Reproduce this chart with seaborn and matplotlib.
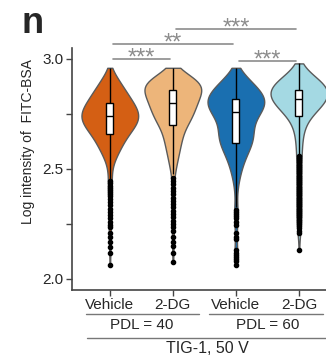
import numpy as np
import pandas as pd
import matplotlib
matplotlib.use("Agg")
import matplotlib.pyplot as plt
import matplotlib.transforms as mtransforms
import seaborn as sns

# groups on the x axis
groups = ["Vehicle_40", "2DG_40", "Vehicle_60", "2DG_60"]
tick_labels = ["Vehicle", "2-DG", "Vehicle", "2-DG"]
colors = ["#D45F14", "#EDB57A", "#1A6FB0", "#A4D9E3"]

# binned log intensities (value level -> count)
levels = [2.98, 2.96, 2.94, 2.92, 2.90, 2.88, 2.86, 2.84, 2.82, 2.80,
          2.78, 2.76, 2.74, 2.72, 2.70, 2.68, 2.66, 2.64, 2.62, 2.60,
          2.58, 2.56, 2.54, 2.52, 2.50, 2.48, 2.46, 2.44, 2.42, 2.40]
counts_veh40 = [0, 1, 4, 7, 10, 13, 16, 19, 22, 25,
                28, 31, 32, 31, 28, 24, 20, 17, 14, 12,
                10, 7, 5, 3, 2, 0, 0, 0, 0, 0]
counts_dg40 = [0, 3, 11, 21, 32, 36, 33, 30, 28, 26,
               25, 23, 21, 20, 15, 12, 11, 10, 9, 8,
               7, 6, 5, 4, 3, 0, 0, 0, 0, 0]
counts_veh60 = [0, 1, 5, 9, 13, 17, 21, 25, 27, 28,
                26, 22, 19, 15, 14, 15, 16, 16, 15, 13,
                11, 9, 7, 6, 5, 4, 3, 2, 2, 1]
counts_dg60 = [1, 2, 6, 13, 20, 25, 28, 27, 25, 22,
               18, 14, 8, 6, 5, 4, 3, 3, 3, 2,
               2, 0, 0, 0, 0, 0, 0, 0, 0, 0]

# low single cells (the dots under each violin)
tail_veh40 = [2.485, 2.475, 2.465, 2.455, 2.445, 2.435, 2.425, 2.415, 2.405,
              2.395, 2.385, 2.375, 2.365, 2.35, 2.335, 2.32, 2.305, 2.29,
              2.275, 2.26, 2.245, 2.235, 2.21, 2.19, 2.17, 2.145, 2.12, 2.063]
tail_dg40 = [2.49, 2.475, 2.46, 2.445, 2.43, 2.415, 2.40, 2.385, 2.37, 2.355,
             2.34, 2.325, 2.31, 2.295, 2.28, 2.265, 2.25, 2.235, 2.22, 2.19,
             2.17, 2.15, 2.12, 2.075]
tail_veh60 = [2.37, 2.35, 2.325, 2.315, 2.305, 2.295, 2.285, 2.275, 2.26,
              2.245, 2.21, 2.19, 2.18, 2.13, 2.12, 2.11, 2.10, 2.09, 2.08, 2.065]
tail_dg60 = [2.57, 2.56, 2.55, 2.54, 2.53, 2.52, 2.51, 2.50, 2.49, 2.48,
             2.47, 2.46, 2.45, 2.44, 2.43, 2.42, 2.41, 2.40, 2.39, 2.38,
             2.37, 2.36, 2.35, 2.34, 2.33, 2.32, 2.31, 2.30, 2.29, 2.28,
             2.27, 2.26, 2.25, 2.24, 2.23, 2.22, 2.21, 2.13]

# significance brackets: (left group, right group, label)
comparisons = [(0, 1, "***"), (0, 2, "**"), (1, 3, "***"), (2, 3, "***")]
bracket_y = [3.0, 3.068, 3.136, 2.99]

counts = [counts_veh40, counts_dg40, counts_veh60, counts_dg60]
tails = [tail_veh40, tail_dg40, tail_veh60, tail_dg60]
frames = []
for g, c, t in zip(groups, counts, tails):
    vals = np.concatenate([np.repeat(levels, c), t])
    frames.append(pd.DataFrame({"group": g, "value": vals}))
df = pd.concat(frames, ignore_index=True)

sns.set_style("ticks")
plt.rcParams["font.family"] = ["Liberation Sans", "DejaVu Sans"]

fig = plt.figure(figsize=(3.26, 3.56), dpi=100)
ax = fig.add_axes([72 / 326, 66 / 356, 254 / 326, 242 / 356])

sns.violinplot(data=df, x="group", y="value", hue="group", order=groups,
               hue_order=groups, palette=colors, saturation=1, inner=None,
               cut=0, density_norm="width", width=0.9, bw_adjust=0.8,
               linewidth=1, linecolor="#5a5a5a", legend=False, ax=ax)
sns.boxplot(data=df, x="group", y="value", order=groups, width=0.11,
            color="white", saturation=1, linecolor="black", linewidth=1,
            showcaps=False,
            flierprops=dict(marker="o", markerfacecolor="black",
                            markeredgecolor="black", markersize=3),
            ax=ax)

ax.set_xlim(-0.6, 3.43)
ax.set_ylim(1.95, 3.05)
ax.set_yticks([2.0, 2.25, 2.5, 2.75, 3.0])
ax.set_yticklabels(["2.0", "", "2.5", "", "3.0"])
ax.set_xticks(range(4))
ax.set_xticklabels(tick_labels)
ax.set_xlabel("")
ax.set_ylabel("")
for s in ["top", "right"]:
    ax.spines[s].set_visible(False)
for s in ["left", "bottom"]:
    ax.spines[s].set_color("#444444")
    ax.spines[s].set_linewidth(1.2)
ax.tick_params(axis="both", labelsize=11, length=4, width=1,
               color="#444444", pad=2)

# significance brackets
for (i, j, lab), y in zip(comparisons, bracket_y):
    ax.plot([i + 0.05, j - 0.05], [y, y], color="#8c8c8c", lw=1.2,
            clip_on=False)
    ax.text((i + j) / 2, y - 0.026, lab, ha="center", va="baseline",
            color="#8c8c8c", fontsize=17, clip_on=False)

# group annotations below the axis
tr = mtransforms.blended_transform_factory(ax.transData, fig.transFigure)
line_kw = dict(color="#777777", lw=1, transform=tr, clip_on=False)
ax.plot([-0.38, 1.41], [0.118, 0.118], **line_kw)
ax.plot([1.57, 3.38], [0.118, 0.118], **line_kw)
ax.plot([-0.365, 3.43], [0.0506, 0.0506], **line_kw)
ax.text(0.5, 0.087, "PDL = 40", ha="center", va="center", fontsize=11,
        transform=tr)
ax.text(2.5, 0.087, "PDL = 60", ha="center", va="center", fontsize=11,
        transform=tr)
ax.text(1.55, 0.02, "TIG-1, 50 V", ha="center", va="center", fontsize=11.5,
        transform=tr)

fig.text(28 / 326, 1 - 141.5 / 356, "Log intensity of  FITC-BSA",
         rotation=90, ha="center", va="center", fontsize=10)
fig.text(21 / 326, 1 - 33 / 356, "n", fontsize=26, fontweight="bold",
         ha="left", va="baseline")

fig.savefig("out.png", dpi=100)
